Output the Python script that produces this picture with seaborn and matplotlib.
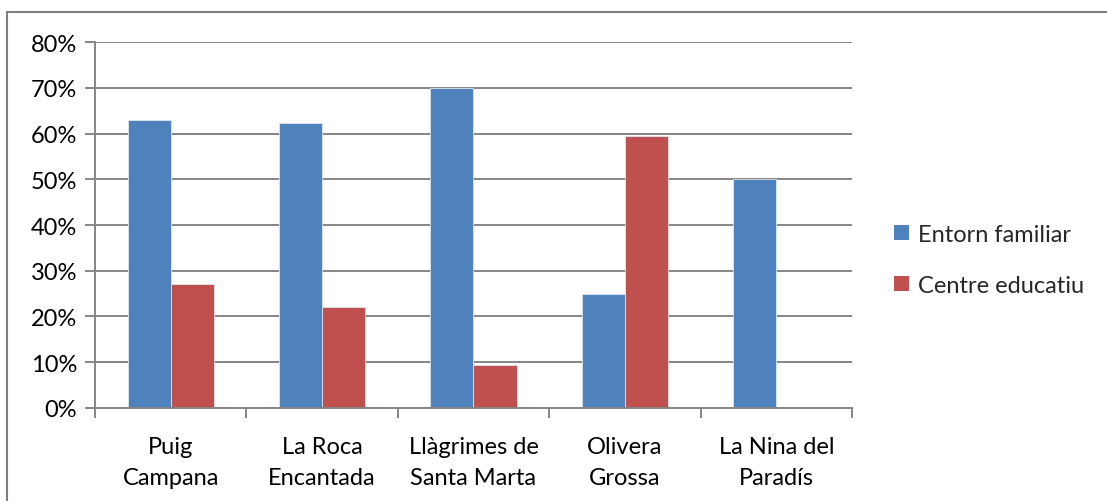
import matplotlib
matplotlib.use('Agg')
import matplotlib.ticker as mticker
import pandas as pd
import seaborn as sns
from matplotlib import pyplot as plt
from matplotlib.patches import Rectangle

categories = ['Puig\nCampana', 'La Roca\nEncantada', 'Llàgrimes de\nSanta Marta', 'Olivera\nGrossa', 'La Nina del\nParadís']
entorn_familiar = [0.629, 0.622, 0.699, 0.25, 0.50]
centre_educatiu = [0.271, 0.22, 0.093, 0.595, 0.0]
series_names = ['Entorn familiar', 'Centre educatiu']
colors = ['#4F81BD', '#C0504D']

df = pd.DataFrame({
    'categoria': categories * 2,
    'valor': entorn_familiar + centre_educatiu,
    'serie': [series_names[0]] * len(categories) + [series_names[1]] * len(categories),
})

sns.set_style('white')
plt.rcParams['font.family'] = ['Lato', 'DejaVu Sans']
grid_color = '#868686'
fs = 17

fig = plt.figure(figsize=(11.07, 5.02), dpi=100)
ax = fig.add_axes([0.0858, 0.1853, 0.6838, 0.729])
sns.barplot(data=df, x='categoria', y='valor', hue='serie', palette=colors,
            width=0.57, gap=0, ax=ax, edgecolor='#dde6f0', linewidth=0.6, saturation=1)

ax.set_ylim(0, 0.8)
ax.set_xlim(-0.5, len(categories) - 0.5)
ax.yaxis.set_major_locator(mticker.MultipleLocator(0.1))
ax.yaxis.set_major_formatter(mticker.FuncFormatter(lambda v, _: f'{v * 100:.0f}%'))
ax.grid(axis='y', color=grid_color, linewidth=1.4)
ax.set_axisbelow(True)
ax.set_xlabel('')
ax.set_ylabel('')

for side in ['top', 'right']:
    ax.spines[side].set_visible(False)
for side in ['left', 'bottom']:
    ax.spines[side].set_color(grid_color)
    ax.spines[side].set_linewidth(1.4)

ax.set_xticks([i for i in range(len(categories))])
ax.set_xticklabels(categories, linespacing=1.6)
ax.xaxis.set_minor_locator(mticker.FixedLocator([i - 0.5 for i in range(len(categories) + 1)]))
ax.tick_params(axis='x', which='major', length=0, pad=20, labelsize=fs, colors='black')
ax.tick_params(axis='x', which='minor', length=7, width=1.4, color=grid_color, direction='out', bottom=True)
ax.tick_params(axis='y', length=7, width=1.4, color=grid_color, labelsize=fs, pad=6, left=True, labelcolor='black')

leg = ax.legend(loc='center left', bbox_to_anchor=(1.028, 0.405), frameon=False, fontsize=fs,
                handlelength=0.6, handleheight=0.6, handletextpad=0.4, labelspacing=1.25)
for h in leg.legend_handles:
    h.set_edgecolor('none')

border = Rectangle((7 / 1107, -0.05), 1.5, 1.05 - 13 / 502, transform=fig.transFigure,
                   fill=False, edgecolor='#7f7f7f', linewidth=1.5)
fig.patches.append(border)

fig.savefig('out.png', dpi=100)
